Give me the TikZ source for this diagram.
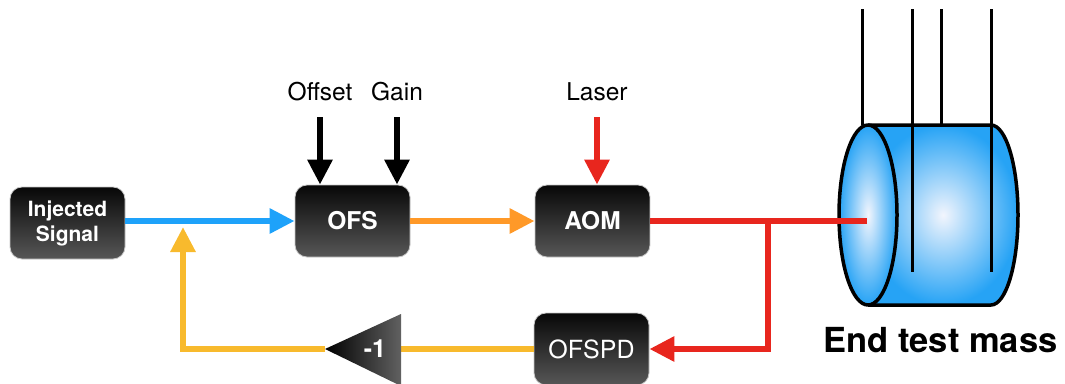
\documentclass[tikz,border=0pt]{standalone}
\usepackage{fontspec}
\setmainfont{TeX Gyre Heros}
\usetikzlibrary{arrows.meta}
\definecolor{sigblue}{RGB}{30,162,250}
\definecolor{ofsorange}{RGB}{255,153,40}
\definecolor{laserred}{RGB}{232,38,30}
\definecolor{fbyellow}{RGB}{248,186,45}
\definecolor{massblue}{RGB}{38,163,245}
\definecolor{massglow}{RGB}{242,245,253}

\begin{document}
\begin{tikzpicture}[x=1pt,y=-1pt,
  block/.style={rounded corners=12pt, minimum width=115pt, minimum height=72pt,
    inner sep=0pt, top color=black!97, bottom color=black!66, draw=black!22,
    line width=0.8pt, text=white, align=center},
  boldbox/.style={font=\bfseries\fontsize{24.5}{28}\selectfont},
  sigline/.style={line width=6pt},
  sigarrow/.style={line width=6pt, -{Triangle[length=25pt,width=24pt]}},
  toplabel/.style={font=\fontsize{24.5}{28}\selectfont, anchor=base},
  wire/.style={line width=3pt},
  rim/.style={line width=3.5pt, line join=round},
]
\useasboundingbox (0,0) rectangle (1065,383);

% ---- signal chain blocks ----
\node[block, font=\bfseries\fontsize{21}{25}\selectfont] (inj) at (67.5,223) {Injected\\Signal};
\node[block, boldbox] (ofs) at (352.5,221) {OFS};
\node[block, boldbox] (aom) at (592.5,221) {AOM};
\node[block, font=\fontsize{25}{28}\selectfont] (ofspd) at (591.5,349) {OFSPD};

% ---- control inputs ----
\node[toplabel] (offset) at (320,100) {Offset};
\node[toplabel] (gain) at (397,100) {Gain};
\node[toplabel] (laser) at (597,100) {Laser};
\coordinate (offsetin) at (320,117);
\coordinate (gainin) at (397,117);
\coordinate (laserin) at (597,117);
\draw[sigarrow, black] (offsetin) -- (offsetin |- ofs.north);
\draw[sigarrow, black] (gainin) -- (gainin |- ofs.north);
\draw[sigarrow, laserred] (laserin) -- (laserin |- aom.north);

% ---- end test mass (cylinder) ----
\coordinate (etm) at (868,215);
\shade[inner color=massglow, outer color=massblue]
  (868,125) -- (991,125) arc[start angle=90, end angle=-90, x radius=27pt, y radius=90pt]
  -- (868,305) -- cycle;
\draw[rim] (868,125) -- (991,125) arc[start angle=90, end angle=-90, x radius=27pt, y radius=90pt]
  -- (868,305);
\shade[inner color=massglow, outer color=massblue] (etm) ellipse[x radius=29, y radius=90];
\draw[rim] (etm) ellipse[x radius=29, y radius=90];

% suspension wires
\draw[wire] (862,9) -- (862,125);
\draw[wire] (941,9) -- (941,125);
\draw[wire] (912,9) -- (912,272);
\draw[wire] (991,9) -- (991,272);

\node[font=\bfseries\fontsize{34.5}{38}\selectfont, anchor=base] (etmlabel) at (940.5,352) {End test mass};

% ---- forward path ----
\draw[sigarrow, sigblue] (inj.east |- ofs.west) -- (ofs.west);
\draw[sigarrow, ofsorange] (ofs.east) -- (aom.west);
\coordinate (beam) at (867,221);
\coordinate (split) at (768,221);
\draw[sigline, laserred] (aom.east) -- (beam);
\draw[sigarrow, laserred] (split) |- (ofspd.east);

% ---- feedback path ----
\coordinate (invtip) at (325,349);
\coordinate (invback) at (401,349);
\coordinate (fbin) at (183,227);
\draw[sigline, fbyellow] (ofspd.west) -- (invback);
\draw[sigarrow, fbyellow, line join=miter] (invtip) -| (fbin);
\shade[left color=black, right color=black!62] (invtip) -- (401,314) -- (401,386) -- cycle;
\node[text=white, font=\bfseries\fontsize{25}{28}\selectfont] (inv) at (375,349) {-1};
\end{tikzpicture}
\end{document}
